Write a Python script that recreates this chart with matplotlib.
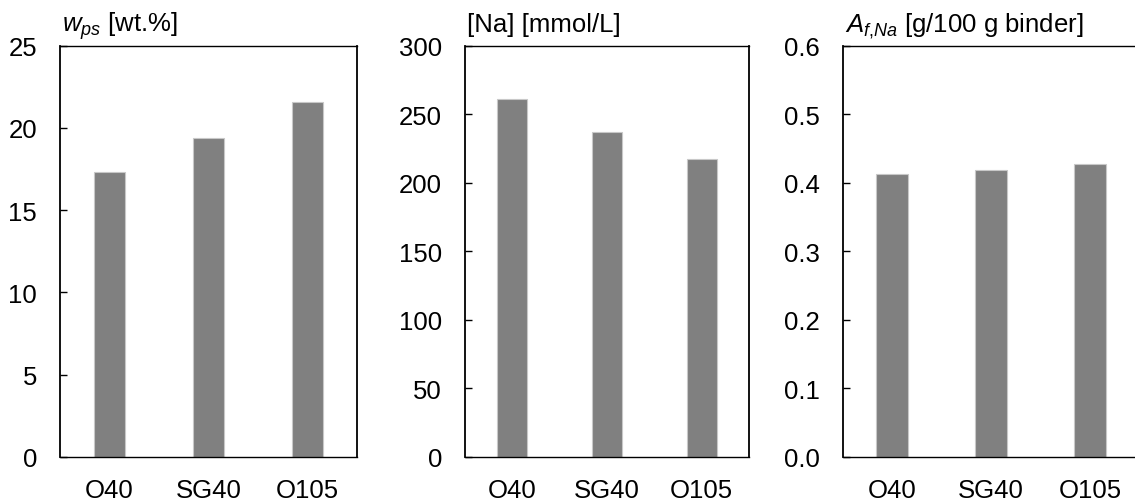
import matplotlib
matplotlib.use("Agg")
import matplotlib.pyplot as plt
from matplotlib.ticker import FormatStrFormatter

plt.rcParams['font.family'] = ['Liberation Sans', 'DejaVu Sans']
plt.rcParams['mathtext.fontset'] = 'custom'
plt.rcParams['mathtext.rm'] = 'Liberation Sans'
plt.rcParams['mathtext.it'] = 'Liberation Sans:italic'
plt.rcParams['mathtext.bf'] = 'Liberation Sans:bold'

# Mixes
categories = ["O40", "SG40", "O105"]

# Pore solution content, sodium concentration, free sodium amount
w_ps = [17.3, 19.4, 21.6]
na_conc = [261, 237, 217]
a_f_na = [0.413, 0.419, 0.428]

titles = [r"$w_{ps}$ [wt.%]", "[Na] [mmol/L]", r"$A_{f{,}Na}$ [g/100 g binder]"]
y_limits = [(0, 25), (0, 300), (0, 0.6)]
y_steps = [5, 50, 0.1]
y_formats = ["%d", "%d", "%.1f"]

W, H = 1135, 502
fig = plt.figure(figsize=(W / 100, H / 100), dpi=100)

# axes boxes in pixels: left, width
boxes = [(60, 297), (465, 284), (842.7, 297)]
top_px, bottom_px = 46.7, 457.7

series = [w_ps, na_conc, a_f_na]
bar_color = "#808080"
edge_color = "#c8c8c8"
fs = 18.5

for (left, width), values, title, ylim, step, fmt in zip(
        boxes, series, titles, y_limits, y_steps, y_formats):
    ax = fig.add_axes([left / W, (H - bottom_px) / H, width / W,
                       (bottom_px - top_px) / H])
    x = range(len(categories))
    ax.bar(x, values, width=0.32, color=bar_color, edgecolor=edge_color,
           linewidth=0.8, zorder=2)
    ax.set_xlim(-0.5, len(categories) - 0.5)
    ax.set_ylim(*ylim)
    n = int(round((ylim[1] - ylim[0]) / step))
    ax.set_yticks([ylim[0] + i * step for i in range(n + 1)])
    ax.yaxis.set_major_formatter(FormatStrFormatter(fmt))
    ax.set_xticks(list(x))
    ax.set_xticklabels(categories)
    ax.tick_params(axis='y', direction='in', length=5, width=1,
                   labelsize=fs, pad=16.5, colors='black')
    ax.tick_params(axis='x', length=0, labelsize=fs, pad=15.5)
    for sp in ax.spines.values():
        sp.set_linewidth(1.0)
        sp.set_color('black')
    ax.spines['left'].set_linewidth(1.3)
    ax.spines['right'].set_linewidth(1.3)
    ax.annotate(title, xy=(0, 1), xycoords='axes fraction',
                xytext=(1.5, 10.4), textcoords='offset points',
                ha='left', va='baseline', fontsize=fs)

fig.savefig("out.png", dpi=100)
